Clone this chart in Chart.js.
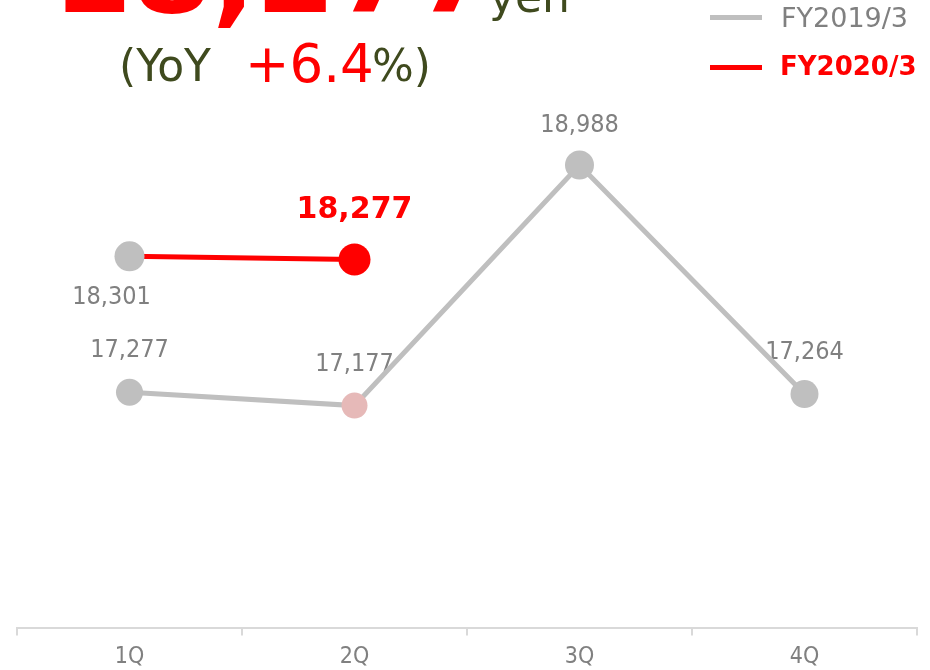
<!DOCTYPE html>
<html>
<head>
<meta charset="utf-8">
<script src="https://cdn.jsdelivr.net/npm/chart.js@4/dist/chart.umd.min.js"></script>
<style>
  html, body { margin: 0; padding: 0; background: #fff; }
  #wrap { position: relative; width: 930px; height: 670px; overflow: hidden; font-family: "DejaVu Sans", sans-serif; }
  #wrap canvas { position: absolute; left: 0; top: 0; }
  .t { position: absolute; line-height: 1; white-space: pre; }
  .olive { color: #3f4a1e; }
  .red { color: #ff0000; }
  .swatch { position: absolute; width: 52px; height: 5px; }
</style>
</head>
<body>
<div id="wrap">
  <canvas id="chart" width="930" height="679"></canvas>

  <div class="t red" id="headline" style="left:52px; top:-85px; font-size:115px; font-weight:bold;"></div>
  <div class="t olive" style="left:489px; top:-25px; font-size:44px;">yen</div>
  <div class="t olive" style="left:119px; top:44px; font-size:44px;">(YoY</div>
  <div class="t red" id="yoy" style="left:245px; top:37px; font-size:53px;"></div>
  <div class="t olive" style="left:372px; top:44px; font-size:44px;">%)</div>

  <div class="swatch" style="left:710px; top:15px; background:#bfbfbf;"></div>
  <div class="t" id="leg0" style="left:781px; top:4px; font-size:27px; color:#808080;"></div>
  <div class="swatch" style="left:710px; top:65px; background:#ff0000;"></div>
  <div class="t red" id="leg1" style="left:780px; top:53px; font-size:26px; font-weight:bold;"></div>
</div>

<script>
const categories = ["1Q", "2Q", "3Q", "4Q"];
const seriesNames = ["FY2019/3", "FY2020/3"];
const fy2019 = [17277, 17177, 18988, 17264];
const fy2020 = [18301, 18277];
const headline = "18,277";
const yoyChange = "+6.4";

document.getElementById("headline").textContent = headline;
document.getElementById("yoy").textContent = yoyChange;
document.getElementById("leg0").textContent = seriesNames[0];
document.getElementById("leg1").textContent = seriesNames[1];

// label look per dataset index (dataset 0 = FY2020/3, drawn on top)
const labelStyle = {
  0: { offsets: [[-18, 48], [0, -41]], colors: ["#808080", "#ff0000"], fonts: ["25px 'DejaVu Sans Condensed'", "bold 30px 'DejaVu Sans'"] },
  1: { offsets: [[0, -35], [0, -35], [0, -33], [0, -35]], colors: ["#808080"], fonts: ["25px 'DejaVu Sans Condensed'"] }
};

const pointLabels = {
  id: "pointLabels",
  beforeDatasetsDraw(chart) {
    const ctx = chart.ctx;
    ctx.save();
    ctx.textAlign = "center";
    ctx.textBaseline = "alphabetic";
    chart.data.datasets.forEach((ds, i) => {
      const st = labelStyle[i];
      const meta = chart.getDatasetMeta(i);
      meta.data.forEach((pt, j) => {
        const off = st.offsets[j];
        ctx.font = st.fonts[j] || st.fonts[0];
        ctx.fillStyle = st.colors[j] || st.colors[0];
        ctx.fillText(ds.data[j].toLocaleString("en-US"), pt.x + off[0], pt.y + off[1]);
      });
    });
    ctx.restore();
  }
};

new Chart(document.getElementById("chart"), {
  type: "line",
  data: {
    labels: categories,
    datasets: [{
      label: seriesNames[1],
      data: fy2020,
      borderColor: "#ff0000",
      borderWidth: 5,
      pointBackgroundColor: ["#bfbfbf", "#ff0000"],
      pointBorderWidth: 0,
      pointRadius: [15, 16],
      tension: 0
    }, {
      label: seriesNames[0],
      data: fy2019,
      borderColor: "#bfbfbf",
      borderWidth: 5,
      pointBackgroundColor: ["#bfbfbf", "#e6b9b8", "#bfbfbf", "#bfbfbf"],
      pointBorderWidth: 0,
      pointRadius: [13.5, 13, 14.5, 14],
      tension: 0
    }]
  },
  options: {
    responsive: false,
    animation: false,
    layout: { autoPadding: false, padding: { top: 97, left: 17, right: 13, bottom: 0 } },
    plugins: { legend: { display: false }, tooltip: { enabled: false } },
    scales: {
      x: {
        offset: true,
        grid: { display: true, drawOnChartArea: false, drawTicks: true, tickLength: 7, color: "#d9d9d9", lineWidth: 2, offset: true },
        border: { display: true, color: "#d9d9d9", width: 2 },
        ticks: { color: "#808080", padding: 8, font: { family: "'DejaVu Sans Condensed'", size: 23 } }
      },
      y: { display: false, min: 15500, max: 19500 }
    }
  },
  plugins: [pointLabels]
});
</script>
</body>
</html>
